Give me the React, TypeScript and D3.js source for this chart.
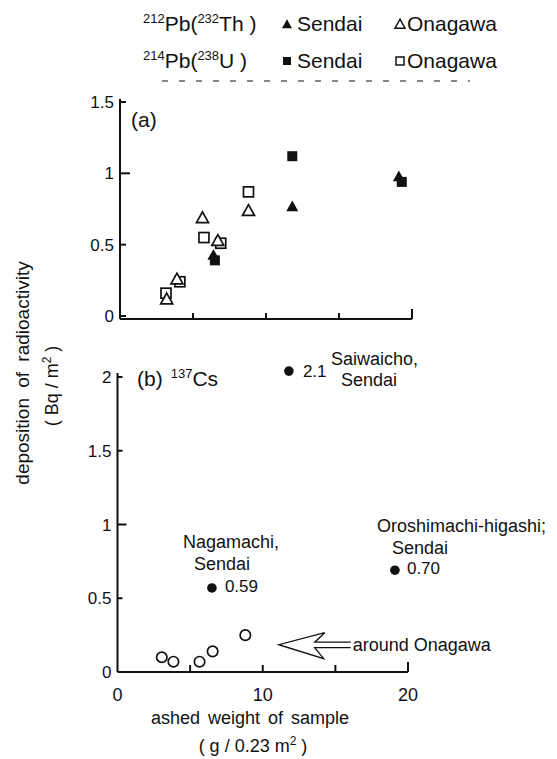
import React from 'react';
import * as d3 from 'd3';

// Panel (a): 212Pb (232Th) and 214Pb (238U)
const thSendaiX = [6.4, 11.8, 19.1];
const thSendaiY = [0.43, 0.77, 0.98];
const thOnagawaX = [3.2, 3.9, 5.65, 6.7, 8.8];
const thOnagawaY = [0.12, 0.26, 0.69, 0.53, 0.74];
const uSendaiX = [6.5, 11.8, 19.3];
const uSendaiY = [0.39, 1.12, 0.94];
const uOnagawaX = [3.15, 4.1, 5.75, 6.9, 8.8];
const uOnagawaY = [0.16, 0.24, 0.55, 0.51, 0.87];

// Panel (b): 137Cs
const csSendaiX = [11.8, 6.5, 19.1];
const csSendaiY = [2.04, 0.57, 0.69];
const csSendaiValue = ['2.1', '0.59', '0.70'];
const csOnagawaX = [3.05, 3.85, 5.65, 6.55, 8.8];
const csOnagawaY = [0.1, 0.07, 0.07, 0.14, 0.25];

const xTicks = [0, 5, 10, 15, 20];
const xTickLabels = ['0', '', '10', '', '20'];
const yTicksA = [0, 0.5, 1, 1.5];
const yTickLabelsA = ['0', '0.5', '1', '1.5'];
const yTicksB = [0, 0.5, 1, 1.5, 2];
const yTickLabelsB = ['0', '0.5', '1', '1.5', '2'];

const FONT = 'Liberation Sans, Arial, sans-serif';

const tri = (x: number, y: number, s = 12) =>
  `M${x},${y - s * 0.48}L${x + s / 2},${y + s * 0.42}L${x - s / 2},${y + s * 0.42}Z`;

export default function App() {
  const xA = d3.scaleLinear().domain([0, 20]).range([120, 412]);
  const yA = d3.scaleLinear().domain([0, 1.5]).range([316, 102]);
  const xB = d3.scaleLinear().domain([0, 20]).range([117.5, 408]);
  const yB = d3.scaleLinear().domain([0, 2]).range([672, 377]);

  const sq = 10;
  const black = '#111';

  const annot = [
    { lines: ['Saiwaicho,', 'Sendai'], dx: [42, 52], dy: [-6, 15], vdx: 14, vdy: 6 },
    { lines: ['Nagamachi,', 'Sendai'], dx: [-29, -18], dy: [-40, -18], vdx: 13, vdy: 4 },
    { lines: ['Oroshimachi-higashi;', 'Sendai'], dx: [-18, -3], dy: [-38, -16], vdx: 12, vdy: 4 },
  ];

  const ax = xB(11.1);
  const ay = yB(0.185);
  const arrowPath = `M${ax + 72},${ay - 2.5}L${ax + 36},${ay - 2.5}L${ax + 46},${ay - 12}L${ax},${ay}L${ax + 45},${ay + 14}L${ax + 36},${ay + 3}L${ax + 72},${ay + 3}`;

  return (
    <svg
      width={557}
      height={759}
      style={{ position: 'absolute', left: 0, top: 0, background: '#fff' }}
      fontFamily={FONT}
    >
      <rect x={0} y={0} width={557} height={759} fill="#fff" />
      {/* Legend */}
      <g fill={black}>
        <text x={143} y={31} fontSize={21}>
          <tspan fontSize={13} dy={-8}>212</tspan>
          <tspan dy={8}>Pb(</tspan>
          <tspan fontSize={13} dy={-8}>232</tspan>
          <tspan dy={8}>Th )</tspan>
        </text>
        <path d={tri(287, 24, 10)} fill={black} />
        <text x={297} y={31} fontSize={21}>Sendai</text>
        <path d={tri(400, 24, 10)} fill="none" stroke={black} strokeWidth={1.5} />
        <text x={407} y={31} fontSize={21}>Onagawa</text>

        <text x={143} y={68} fontSize={21}>
          <tspan fontSize={13} dy={-8}>214</tspan>
          <tspan dy={8}>Pb(</tspan>
          <tspan fontSize={13} dy={-8}>238</tspan>
          <tspan dy={8}>U  )</tspan>
        </text>
        <rect x={283} y={57} width={8} height={8} fill={black} />
        <text x={297} y={68} fontSize={21}>Sendai</text>
        <rect x={396} y={57} width={8} height={8} fill="none" stroke={black} strokeWidth={1.5} />
        <text x={407} y={68} fontSize={21}>Onagawa</text>
        <line x1={162} x2={470} y1={81} y2={81} stroke={black} strokeWidth={1.2} strokeDasharray="6 11" />
      </g>

      {/* Panel (a) axes */}
      <g stroke={black} strokeWidth={2} fill="none">
        <line x1={xA(0)} x2={xA(0)} y1={99} y2={319} />
        <line x1={xA(0)} x2={xA(20)} y1={319} y2={319} />
        {xTicks.slice(1).map((t) => (
          <line key={t} x1={xA(t)} x2={xA(t)} y1={319} y2={t === 20 ? 309 : 313} />
        ))}
        {yTicksA.map((t) => (
          <line key={t} x1={xA(0)} x2={xA(0) + (t === 1 ? 10 : 6)} y1={yA(t)} y2={yA(t)} />
        ))}
      </g>
      <g fill={black} fontSize={17} textAnchor="end">
        {yTicksA.map((t, i) => (
          <text key={t} x={xA(0) - 6} y={yA(t) + 6}>{yTickLabelsA[i]}</text>
        ))}
      </g>
      <text x={131} y={127} fontSize={21} fill={black}>(a)</text>

      {/* Panel (a) points */}
      {uOnagawaX.map((x, i) => (
        <rect key={'uo' + i} x={xA(x) - sq / 2} y={yA(uOnagawaY[i]) - sq / 2} width={sq} height={sq}
          fill="#fff" stroke={black} strokeWidth={1.7} />
      ))}
      {thOnagawaX.map((x, i) => (
        <path key={'to' + i} d={tri(xA(x), yA(thOnagawaY[i]))} fill="#fff" stroke={black} strokeWidth={1.7} />
      ))}
      {thSendaiX.map((x, i) => (
        <path key={'ts' + i} d={tri(xA(x), yA(thSendaiY[i]))} fill={black} />
      ))}
      {uSendaiX.map((x, i) => (
        <rect key={'us' + i} x={xA(x) - sq / 2} y={yA(uSendaiY[i]) - sq / 2} width={sq} height={sq} fill={black} />
      ))}

      {/* Panel (b) axes */}
      <g stroke={black} strokeWidth={2} fill="none">
        <line x1={xB(0)} x2={xB(0)} y1={373} y2={672} />
        <line x1={xB(0)} x2={xB(20)} y1={672} y2={672} />
        {xTicks.slice(1).map((t) => (
          <line key={t} x1={xB(t)} x2={xB(t)} y1={672} y2={t === 20 ? 662 : 665} />
        ))}
        {yTicksB.slice(1).map((t) => (
          <line key={t} x1={xB(0)} x2={xB(0) + (t === 1 ? 9 : 5)} y1={yB(t)} y2={yB(t)} />
        ))}
      </g>
      <g fill={black} fontSize={17} textAnchor="end">
        {yTicksB.map((t, i) => (
          <text key={t} x={xB(0) - 6} y={yB(t) + 6}>{yTickLabelsB[i]}</text>
        ))}
      </g>
      <g fill={black} fontSize={18} textAnchor="middle">
        {xTicks.map((t, i) => (
          xTickLabels[i] ? <text key={t} x={xB(t)} y={701}>{xTickLabels[i]}</text> : null
        ))}
      </g>
      <text x={137} y={386} fontSize={21} fill={black}>
        (b)<tspan dx={8} fontSize={13} dy={-8}>137</tspan><tspan dy={8}>Cs</tspan>
      </text>

      {/* Panel (b) points */}
      {csOnagawaX.map((x, i) => (
        <circle key={'co' + i} cx={xB(x)} cy={yB(csOnagawaY[i])} r={5.2} fill="#fff" stroke={black} strokeWidth={1.7} />
      ))}
      {csSendaiX.map((x, i) => {
        const cx = xB(x);
        const cy = yB(csSendaiY[i]);
        const a = annot[i];
        return (
          <g key={'cs' + i} fill={black}>
            <circle cx={cx} cy={cy} r={4.8} />
            <text x={cx + a.vdx} y={cy + a.vdy} fontSize={17}>{csSendaiValue[i]}</text>
            {a.lines.map((l, j) => (
              <text key={j} x={cx + a.dx[j]} y={cy + a.dy[j]} fontSize={18}>{l}</text>
            ))}
          </g>
        );
      })}

      {/* Arrow */}
      <path d={arrowPath} fill="none" stroke={black} strokeWidth={1.3} />
      <text x={ax + 74} y={ay + 6} fontSize={18} fill={black}>around Onagawa</text>

      {/* Axis titles */}
      <text x={250} y={724} fontSize={18} textAnchor="middle" fill={black} wordSpacing={3}>ashed weight of sample</text>
      <text x={253} y={752} fontSize={18} textAnchor="middle" fill={black}>
        ( g / 0.23 m<tspan fontSize={12} dy={-7}>2</tspan><tspan dy={7}> )</tspan>
      </text>
      <text transform="translate(29,373) rotate(-90)" fontSize={19} textAnchor="middle" fill={black} wordSpacing={5}>
        deposition of radioactivity
      </text>
      <text transform="translate(58,386) rotate(-90)" fontSize={18} textAnchor="middle" fill={black}>
        ( Bq / m<tspan fontSize={12} dy={-7}>2</tspan><tspan dy={7}> )</tspan>
      </text>
    </svg>
  );
}
